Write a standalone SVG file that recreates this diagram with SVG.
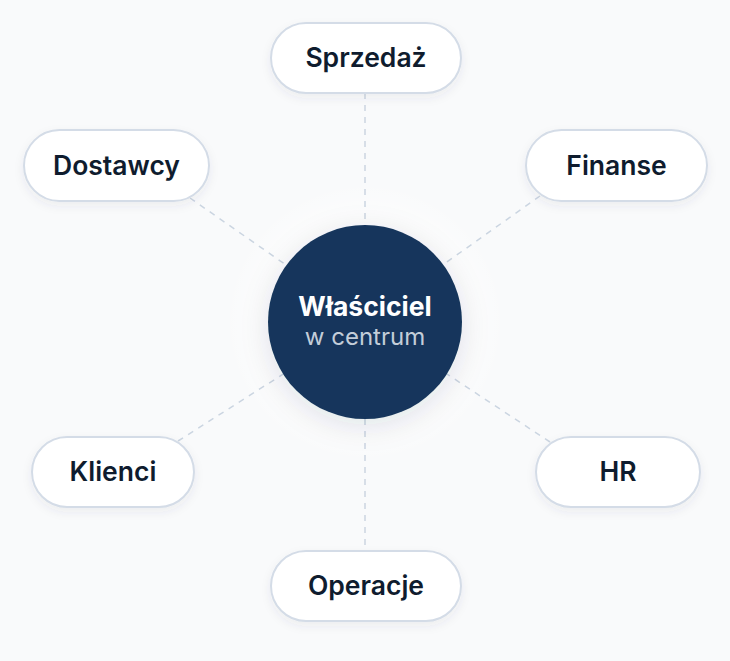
<svg xmlns="http://www.w3.org/2000/svg" width="730" height="661" viewBox="0 0 730 661">
<defs>
<filter id="sh" x="-30%" y="-40%" width="160%" height="200%">
<feDropShadow dx="0" dy="4" stdDeviation="5" flood-color="#334155" flood-opacity="0.07"/>
</filter>
<filter id="glow" x="-50%" y="-50%" width="200%" height="200%">
<feDropShadow dx="0" dy="6" stdDeviation="14" flood-color="#0f2a4a" flood-opacity="0.12"/>
</filter>
<radialGradient id="halo" cx="0.5" cy="0.5" r="0.5">
<stop offset="0.6" stop-color="#ffffff" stop-opacity="0.9"/>
<stop offset="1" stop-color="#ffffff" stop-opacity="0"/>
</radialGradient>
<style>
.pill{fill:#ffffff;stroke:#d4dce7;stroke-width:2;filter:url(#sh)}
.lbl{font-family:Inter,"Noto Sans","Liberation Sans",sans-serif;font-weight:600;font-size:26.5px;fill:#0f1c2e;text-anchor:middle}
.conn{stroke:#cbd5e1;stroke-width:1.5;stroke-dasharray:6 6;fill:none}
</style>
</defs>
<rect width="730" height="661" fill="#f9fafb"/>
<circle cx="365" cy="322" r="140" fill="url(#halo)"/>
<g id="connectors">
<line class="conn" x1="365" y1="93" x2="365" y2="225"/>
<line class="conn" x1="365" y1="419" x2="365" y2="551"/>
<line class="conn" x1="190" y1="198" x2="365" y2="320"/>
<line class="conn" x1="540" y1="196" x2="365" y2="320"/>
<line class="conn" x1="178" y1="441" x2="365" y2="322"/>
<line class="conn" x1="550" y1="442" x2="365" y2="320"/>
</g>
<g id="center">
<circle cx="365" cy="322" r="97" fill="#15365b" filter="url(#glow)"/>
<text x="365" y="316" font-family="Inter,'Noto Sans','Liberation Sans',sans-serif" font-weight="700" font-size="26.5" fill="#ffffff" text-anchor="middle">Właściciel</text>
<text x="365" y="345" font-family="Inter,'Noto Sans','Liberation Sans',sans-serif" font-weight="400" font-size="24" fill="#c3cdd9" text-anchor="middle">w centrum</text>
</g>
<g id="sprzedaz">
<rect class="pill" x="271" y="23" width="190" height="70" rx="35"/>
<text class="lbl" x="366" y="67">Sprzedaż</text>
</g>
<g id="dostawcy">
<rect class="pill" x="24" y="130" width="185" height="71" rx="35.5"/>
<text class="lbl" x="116.5" y="175">Dostawcy</text>
</g>
<g id="finanse">
<rect class="pill" x="526" y="130" width="181" height="71" rx="35.5"/>
<text class="lbl" x="616.5" y="175">Finanse</text>
</g>
<g id="klienci">
<rect class="pill" x="32" y="437" width="162" height="70" rx="35"/>
<text class="lbl" x="113" y="481">Klienci</text>
</g>
<g id="hr">
<rect class="pill" x="536" y="437" width="164" height="70" rx="35"/>
<text class="lbl" x="618" y="481">HR</text>
</g>
<g id="operacje">
<rect class="pill" x="271" y="551" width="190" height="70" rx="35"/>
<text class="lbl" x="366" y="595">Operacje</text>
</g>
</svg>
